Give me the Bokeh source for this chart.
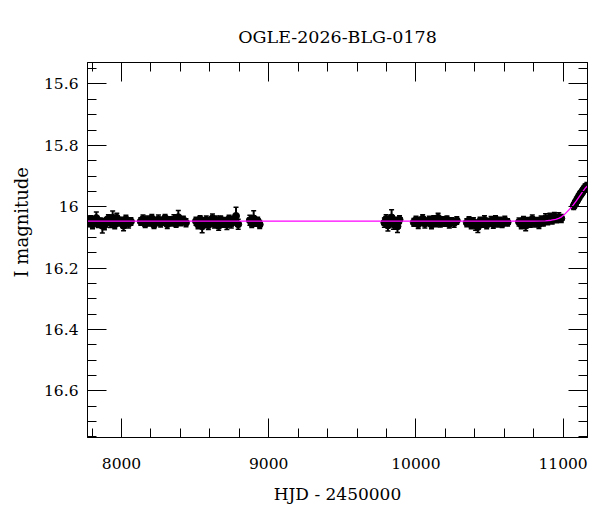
from bokeh.plotting import figure
from bokeh.models import (Range1d, FixedTicker, LinearAxis, Title, Whisker, TeeHead,
                          ColumnDataSource, CustomJSTickFormatter)
from bokeh.embed import file_html
from bokeh.resources import INLINE

# ---------------- data ----------------
s1_t = [7776, 7790, 7803, 7815, 7829, 7842, 7856, 7870, 7884, 7897, 7911, 7925, 7940, 7954, 7968, 7983, 7998, 8014, 8030, 8048, 8064]
s1_m = [16.052, 16.041, 16.058, 16.046, 16.037, 16.055, 16.049, 16.062, 16.061, 16.047, 16.039, 16.053, 16.036, 16.058, 16.036, 16.050, 16.046, 16.062, 16.041, 16.055, 16.048]
s1_e = [0.013, 0.012, 0.014, 0.012, 0.020, 0.013, 0.012, 0.024, 0.014, 0.012, 0.013, 0.015, 0.022, 0.014, 0.015, 0.013, 0.012, 0.016, 0.013, 0.014, 0.012]

s2_t = [8131, 8146, 8161, 8176, 8191, 8206, 8221, 8236, 8251, 8266, 8281, 8296, 8311, 8326, 8341, 8356, 8371, 8386, 8402, 8420, 8438]
s2_m = [16.048, 16.040, 16.056, 16.044, 16.051, 16.038, 16.059, 16.046, 16.042, 16.054, 16.047, 16.037, 16.057, 16.045, 16.050, 16.041, 16.055, 16.034, 16.049, 16.043, 16.052]
s2_e = [0.012, 0.013, 0.012, 0.014, 0.012, 0.013, 0.012, 0.012, 0.015, 0.012, 0.013, 0.012, 0.014, 0.012, 0.013, 0.015, 0.012, 0.022, 0.013, 0.012, 0.013]

s3_t = [8506, 8520, 8534, 8548, 8562, 8576, 8590, 8604, 8618, 8632, 8646, 8660, 8674, 8688, 8702, 8716, 8731, 8746, 8761, 8778, 8793]
s3_m = [16.047, 16.058, 16.041, 16.064, 16.052, 16.043, 16.060, 16.049, 16.038, 16.056, 16.046, 16.062, 16.042, 16.053, 16.048, 16.059, 16.040, 16.055, 16.045, 16.030, 16.057]
s3_e = [0.013, 0.014, 0.012, 0.021, 0.015, 0.013, 0.014, 0.012, 0.014, 0.013, 0.016, 0.015, 0.012, 0.014, 0.013, 0.015, 0.012, 0.014, 0.013, 0.028, 0.016]

s4_t = [8872, 8885, 8898, 8911, 8925, 8939]
s4_m = [16.044, 16.055, 16.038, 16.050, 16.046, 16.058]
s4_e = [0.016, 0.013, 0.025, 0.014, 0.012, 0.013]

s5_t = [9786, 9798, 9810, 9822, 9835, 9848, 9861, 9875, 9889]
s5_m = [16.052, 16.040, 16.061, 16.046, 16.035, 16.057, 16.048, 16.064, 16.042]
s5_e = [0.015, 0.014, 0.018, 0.013, 0.025, 0.016, 0.014, 0.020, 0.013]

s6_t = [9986, 10001, 10016, 10031, 10046, 10061, 10076, 10091, 10106, 10121, 10136, 10151, 10166, 10181, 10196, 10211, 10227, 10243, 10260, 10278]
s6_m = [16.051, 16.043, 16.057, 16.047, 16.039, 16.055, 16.049, 16.044, 16.058, 16.041, 16.052, 16.036, 16.054, 16.046, 16.050, 16.042, 16.056, 16.048, 16.053, 16.045]
s6_e = [0.013, 0.012, 0.014, 0.012, 0.013, 0.014, 0.012, 0.013, 0.014, 0.012, 0.013, 0.015, 0.012, 0.013, 0.014, 0.012, 0.013, 0.012, 0.014, 0.012]

s7_t = [10346, 10361, 10376, 10391, 10406, 10421, 10436, 10451, 10466, 10481, 10496, 10511, 10526, 10541, 10556, 10571, 10586, 10604, 10623]
s7_m = [16.052, 16.045, 16.058, 16.049, 16.061, 16.066, 16.047, 16.055, 16.043, 16.059, 16.050, 16.046, 16.057, 16.041, 16.053, 16.048, 16.056, 16.044, 16.051]
s7_e = [0.013, 0.012, 0.014, 0.013, 0.016, 0.018, 0.013, 0.012, 0.014, 0.013, 0.012, 0.014, 0.013, 0.012, 0.013, 0.014, 0.012, 0.013, 0.012]

s8_t = [10701, 10716, 10731, 10746, 10761, 10776, 10791, 10806, 10821, 10836, 10851, 10866, 10881, 10896, 10911, 10926, 10941, 10956, 10971, 10988]
s8_m = [16.050, 16.058, 16.044, 16.062, 16.048, 16.055, 16.041, 16.053, 16.047, 16.057, 16.043, 16.051, 16.038, 16.046, 16.035, 16.044, 16.032, 16.040, 16.034, 16.038]
s8_e = [0.013, 0.014, 0.012, 0.016, 0.013, 0.012, 0.014, 0.013, 0.012, 0.014, 0.013, 0.012, 0.015, 0.013, 0.014, 0.012, 0.013, 0.012, 0.014, 0.013]

s9_t = [11072, 11078, 11084, 11090, 11096, 11102, 11108, 11114, 11120, 11126, 11132, 11138, 11144, 11150, 11156, 11162]
s9_m = [15.998, 15.992, 15.988, 15.982, 15.978, 15.972, 15.968, 15.962, 15.958, 15.955, 15.950, 15.946, 15.942, 15.938, 15.936, 15.933]
s9_e = [0.011, 0.012, 0.011, 0.012, 0.011, 0.012, 0.011, 0.012, 0.011, 0.012, 0.011, 0.012, 0.011, 0.012, 0.011, 0.012]

# model light curve
model_t = [7769, 10800, 10880, 10920, 10950, 10970, 10990, 11010, 11030, 11050, 11070, 11090, 11110, 11130, 11150, 11166]
model_m = [16.047, 16.047, 16.046, 16.044, 16.041, 16.038, 16.033, 16.025, 16.015, 16.005, 15.994, 15.981, 15.967, 15.953, 15.940, 15.932]

x_major = [8000, 9000, 10000, 11000]
y_major = [15.6, 15.8, 16.0, 16.2, 16.4, 16.6]

title_text = "OGLE-2026-BLG-0178"
x_label = "HJD - 2450000"
y_label = "I magnitude"

# ---------------- build ----------------
t = s1_t + s2_t + s3_t + s4_t + s5_t + s6_t + s7_t + s8_t + s9_t
m = s1_m + s2_m + s3_m + s4_m + s5_m + s6_m + s7_m + s8_m + s9_m
e = s1_e + s2_e + s3_e + s4_e + s5_e + s6_e + s7_e + s8_e + s9_e
src = ColumnDataSource(dict(t=t, m=m, lo=[a + b for a, b in zip(m, e)], hi=[a - b for a, b in zip(m, e)]))

FONT = "DejaVu Serif"

p = figure(frame_width=500, frame_height=375,
           x_range=Range1d(7769, 11166), y_range=Range1d(16.752, 15.53),
           output_backend="svg", toolbar_location=None,
           min_border_left=87, min_border_top=62, min_border_right=5, min_border_bottom=67)
p.grid.visible = False
p.outline_line_color = "black"
p.outline_line_width = 1
p.background_fill_color = "white"
p.border_fill_color = "white"

p.title.text = title_text
p.title.align = "center"
p.title.text_font = FONT
p.title.text_font_size = "17.5px"
p.title.text_font_style = "normal"
p.title.text_color = "black"
p.title.standoff = 32

xt = FixedTicker(ticks=x_major, minor_ticks=list(range(7800, 11201, 200)))
yt = FixedTicker(ticks=y_major, minor_ticks=[round(15.55 + 0.05 * i, 2) for i in range(25)])

def style(ax, show_labels):
    ax.major_tick_in = 19
    ax.major_tick_out = 0
    ax.minor_tick_in = 9
    ax.minor_tick_out = 0
    ax.major_tick_line_color = "black"
    ax.minor_tick_line_color = "black"
    ax.axis_line_color = "black"
    ax.major_label_text_font = FONT
    ax.major_label_text_color = "black"
    if show_labels:
        ax.major_label_text_font_size = "15.5px"
    else:
        ax.major_label_text_font_size = "0px"
        ax.formatter = CustomJSTickFormatter(code="return '';")
        ax.major_label_standoff = 0

xa = p.xaxis[0]
xa.ticker = xt
xa.formatter = CustomJSTickFormatter(code="return String(Math.round(tick));")
style(xa, True)
xa.major_label_standoff = 20
xa.axis_label = x_label
xa.axis_label_text_font = FONT
xa.axis_label_text_font_size = "17px"
xa.axis_label_text_font_style = "normal"
xa.axis_label_text_color = "black"
xa.axis_label_standoff = 12

ya = p.yaxis[0]
ya.ticker = yt
ya.formatter = CustomJSTickFormatter(code="return String(Math.round(tick*10)/10);")
style(ya, True)
ya.major_label_standoff = 9

top = LinearAxis(ticker=xt)
style(top, False)
p.add_layout(top, "above")
right = LinearAxis(ticker=yt)
style(right, False)
p.add_layout(right, "right")

p.add_layout(Title(text=y_label, align="left", offset=160, text_font=FONT,
                   text_font_size="18px", text_font_style="normal", text_color="black",
                   standoff=17), "left")

p.add_layout(Whisker(source=src, base="t", upper="hi", lower="lo", dimension="height",
                     line_color="black", line_width=2,
                     upper_head=TeeHead(size=5, line_color="black", line_width=1.5),
                     lower_head=TeeHead(size=5, line_color="black", line_width=1.5)))
p.scatter("t", "m", source=src, size=7, marker="circle", fill_color="black", line_color="black")
p.line(model_t, model_m, line_color="#ff00ff", line_width=1.3)

open("out.html", "w").write(file_html(p, INLINE))
